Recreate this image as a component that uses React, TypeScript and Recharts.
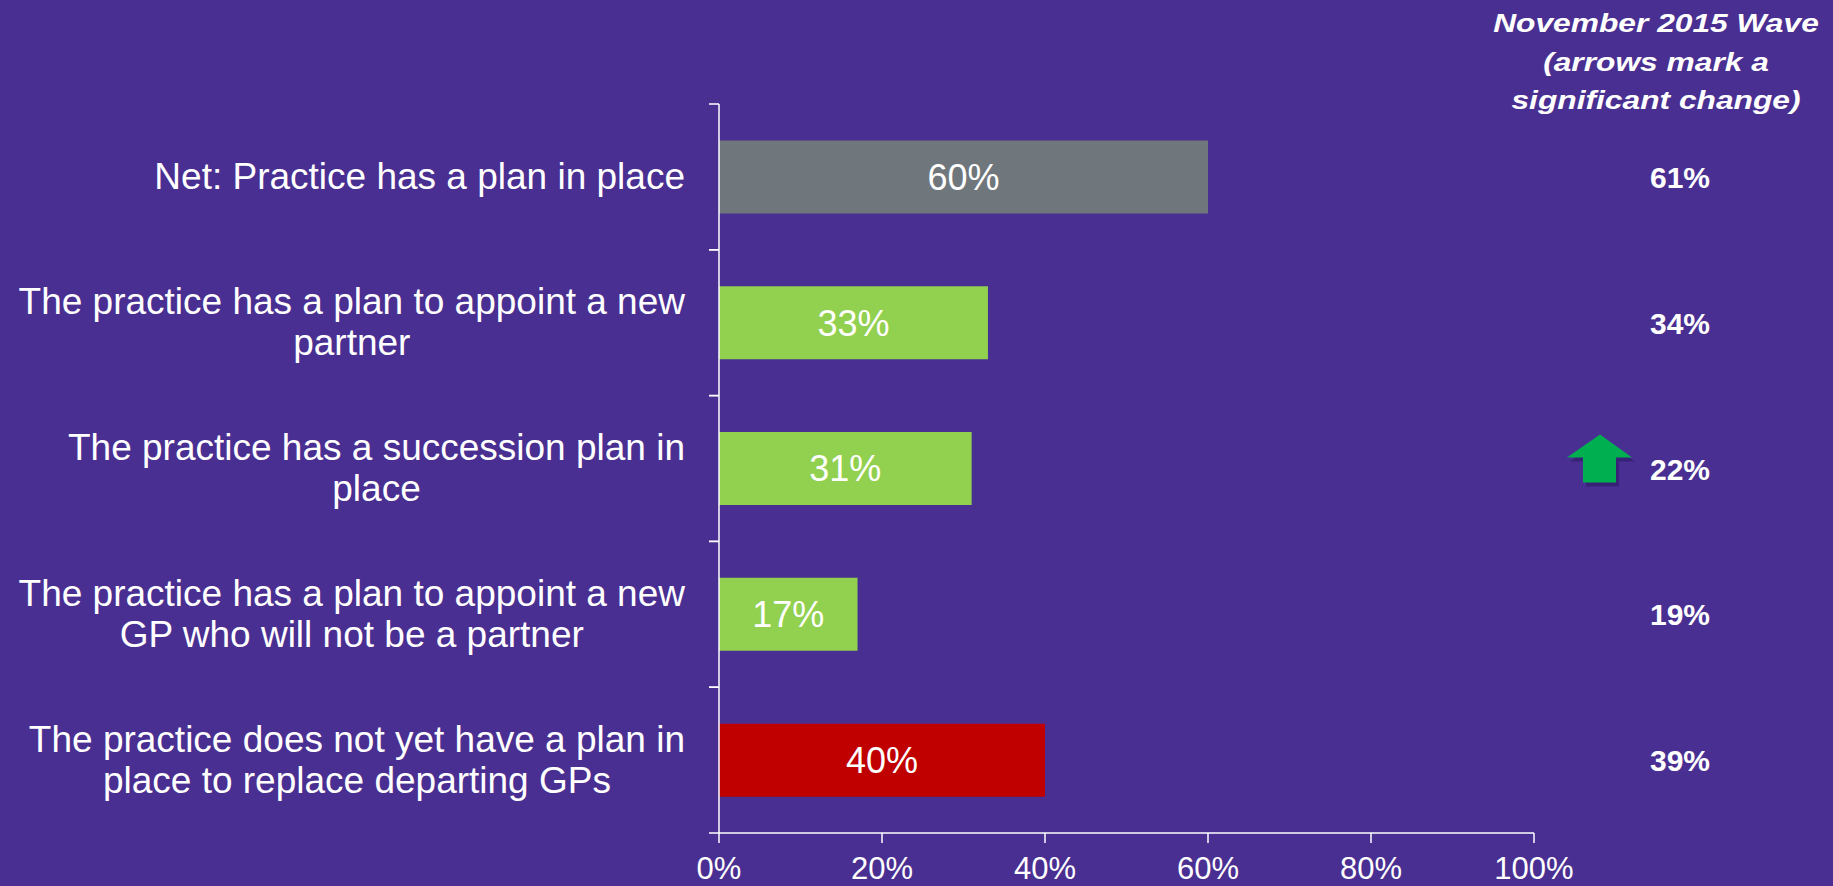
import { BarChart, Bar, XAxis, YAxis, Cell, LabelList } from 'recharts';

const categories = [
  'Net: Practice has a plan in place',
  'The practice has a plan to appoint a new\npartner',
  'The practice has a succession plan in\nplace',
  'The practice has a plan to appoint a new\nGP who will not be a partner',
  'The practice does not yet have a plan in\nplace to replace departing GPs',
];
const current = [60, 33, 31, 17, 40];
const previous = [61, 34, 22, 19, 39];
const change = ['', '', 'up', '', ''];
const xTicks = [0, 20, 40, 60, 80, 100];
const headerLines = ['November 2015 Wave', '(arrows mark a', 'significant change)'];

const barColors = ['#70777c', '#92d050', '#92d050', '#92d050', '#c00000'];
const FONT = "'Liberation Sans', Arial, sans-serif";
const BG = '#4a2f92';
const LABEL_GAP = 34;

const data = categories.map((name, i) => ({ name, value: current[i], prev: previous[i], change: change[i] }));

let ctx: CanvasRenderingContext2D | null = null;
function textWidth(s: string, font: string) {
  if (!ctx) ctx = document.createElement('canvas').getContext('2d');
  if (!ctx) return s.length * 18;
  ctx.font = font;
  return ctx.measureText(s).width;
}

// category label, plus the tick marks at the band edges
function CategoryTick(props: any) {
  const { x, y, payload } = props;
  const lines = String(payload.value).split('\n');
  const font = `37px ${FONT}`;
  const maxW = Math.max(...lines.map((l) => textWidth(l, font)));
  const cx = x - maxW / 2;
  const first = y + 12 - (lines.length - 1) * 20.5;
  const axisX = x + LABEL_GAP;
  const half = payload.offset || 73;
  return (
    <g>
      <line x1={axisX - 10} x2={axisX} y1={y - half} y2={y - half} stroke="#fff" strokeWidth={1.5} />
      <line x1={axisX - 10} x2={axisX} y1={y + half} y2={y + half} stroke="#fff" strokeWidth={1.5} />
      <text fill="#fff" fontSize={37} fontFamily={FONT} textAnchor="middle">
        {lines.map((l, i) => (
          <tspan key={i} x={cx} y={first + i * 41}>{l}</tspan>
        ))}
      </text>
    </g>
  );
}

function PrevTick(props: any) {
  const { x, y, index } = props;
  const row = data[index];
  if (!row) return null;
  const arrow = (dx: number, dy: number) =>
    [
      [-80, -34], [-113, -11], [-97, -11], [-97, 14], [-64, 14], [-64, -11], [-48, -11],
    ].map(([px, py]) => `${x + px + dx},${y + py + dy}`).join(' ');
  return (
    <g>
      {row.change === 'up' && (
        <>
          <polygon points={arrow(3, 4)} fill="#2c1a66" opacity={0.6} />
          <polygon points={arrow(0, 0)} fill="#00b050" />
        </>
      )}
      <text x={x} y={y + 11} fill="#fff" fontSize={30} fontWeight="bold" fontFamily={FONT} textAnchor="middle">
        {row.prev}%
      </text>
    </g>
  );
}

export default function App() {
  return (
    <div style={{ position: 'absolute', left: 0, top: 0, width: 1833, height: 886, background: BG, fontFamily: FONT }}>
      <div
        style={{
          position: 'absolute',
          left: 1656 - 200,
          top: 4,
          width: 400,
          textAlign: 'center',
          color: '#fff',
          fontSize: 26,
          lineHeight: '38.5px',
          fontWeight: 'bold',
          fontStyle: 'italic',
          transform: 'scaleX(1.22)',
        }}
      >
        {headerLines.map((l) => (
          <div key={l}>{l}</div>
        ))}
      </div>
      <BarChart
        width={1833}
        height={886}
        data={data}
        layout="vertical"
        margin={{ top: 104, right: 0, bottom: 0, left: 0 }}
        barCategoryGap="25%"
      >
        <XAxis
          type="number"
          domain={[0, 100]}
          ticks={xTicks}
          height={53}
          tickFormatter={(v) => `${v}%`}
          stroke="#fff"
          strokeWidth={1.5}
          tickSize={10}
          tickMargin={14}
          tick={{ fill: '#fff', fontSize: 31, fontFamily: FONT }}
        />
        <YAxis
          yAxisId="cat"
          type="category"
          dataKey="name"
          width={719}
          stroke="#fff"
          strokeWidth={1.5}
          tickLine={false}
          tickSize={0}
          tickMargin={LABEL_GAP}
          tick={<CategoryTick />}
          interval={0}
        />
        <YAxis
          yAxisId="prev"
          orientation="right"
          type="category"
          dataKey="name"
          width={299}
          axisLine={false}
          tickLine={false}
          tickSize={0}
          tickMargin={146}
          tick={<PrevTick />}
          interval={0}
        />
        <Bar dataKey="value" yAxisId="cat" isAnimationActive={false}>
          {data.map((d, i) => (
            <Cell key={d.name} fill={barColors[i]} />
          ))}
          <LabelList
            dataKey="value"
            position="center"
            fill="#fff"
            fontSize={36}
            fontFamily={FONT}
            formatter={(v: any) => `${v}%`}
          />
        </Bar>
      </BarChart>
    </div>
  );
}
